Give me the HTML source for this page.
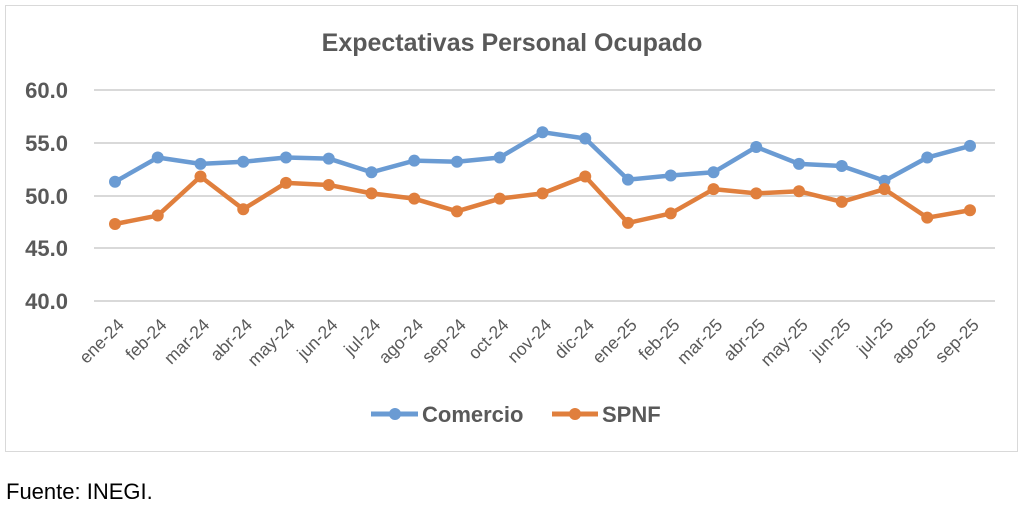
<!DOCTYPE html><html><head><style>body{margin:0;background:#fff}svg text{font-family:"Liberation Sans",Arial,sans-serif}</style></head><body>
<svg width="1024" height="509" xmlns="http://www.w3.org/2000/svg">
<rect x="5.5" y="5.5" width="1012" height="446" fill="#fff" stroke="#d9d9d9"/>
<text x="512" y="51" text-anchor="middle" font-size="25" font-weight="bold" fill="#595959">Expectativas Personal Ocupado</text>
<g stroke="#d9d9d9" stroke-width="2">
<line x1="94" x2="995" y1="90" y2="90"/><line x1="94" x2="995" y1="143" y2="143"/><line x1="94" x2="995" y1="196" y2="196"/><line x1="94" x2="995" y1="248" y2="248"/><line x1="94" x2="995" y1="301" y2="301"/></g>
<g font-size="22" font-weight="bold" fill="#595959" text-anchor="end">
<text x="68" y="98">60.0</text><text x="68" y="151">55.0</text><text x="68" y="204">50.0</text><text x="68" y="256">45.0</text><text x="68" y="309">40.0</text></g>
<g id="lbl" font-size="17.5" fill="#595959" text-anchor="end"></g>
<g id="series"></g>
<line x1="371" x2="418" y1="414" y2="414" stroke="#6a9bd3" stroke-width="5"/><circle cx="395" cy="414" r="6" fill="#6a9bd3"/>
<text x="422" y="422" font-size="22" font-weight="bold" fill="#595959">Comercio</text>
<line x1="552" x2="598" y1="414" y2="414" stroke="#e07f3d" stroke-width="5"/><circle cx="575" cy="414" r="6" fill="#e07f3d"/>
<text x="602" y="422" font-size="22" font-weight="bold" fill="#595959">SPNF</text>
<text x="6" y="499" font-size="22" fill="#000">Fuente: INEGI.</text>
</svg>
<script>
var m=["ene-24","feb-24","mar-24","abr-24","may-24","jun-24","jul-24","ago-24","sep-24","oct-24","nov-24","dic-24","ene-25","feb-25","mar-25","abr-25","may-25","jun-25","jul-25","ago-25","sep-25"];
var c=[51.3,53.6,53.0,53.2,53.6,53.5,52.2,53.3,53.2,53.6,56.0,55.4,51.5,51.9,52.2,54.6,53.0,52.8,51.4,53.6,54.7];
var s=[47.3,48.1,51.8,48.7,51.2,51.0,50.2,49.7,48.5,49.7,50.2,51.8,47.4,48.3,50.6,50.2,50.4,49.4,50.6,47.9,48.6];
var ns="http://www.w3.org/2000/svg",X=i=>115+i*42.75,Y=v=>301-(v-40)*10.55;
var L=document.getElementById("lbl"),S=document.getElementById("series");
m.forEach((t,i)=>{var e=document.createElementNS(ns,"text");e.setAttribute("transform","translate("+(X(i)+10)+",326) rotate(-45)");e.textContent=t;L.appendChild(e);});
[[c,"#6a9bd3"],[s,"#e07f3d"]].forEach(([d,col])=>{var p=document.createElementNS(ns,"polyline");p.setAttribute("points",d.map((v,i)=>X(i)+","+Y(v)).join(" "));p.setAttribute("fill","none");p.setAttribute("stroke",col);p.setAttribute("stroke-width","4.5");p.setAttribute("stroke-linejoin","round");S.appendChild(p);
d.forEach((v,i)=>{var q=document.createElementNS(ns,"circle");q.setAttribute("cx",X(i));q.setAttribute("cy",Y(v));q.setAttribute("r",6);q.setAttribute("fill",col);S.appendChild(q);});});
</script></body></html>
